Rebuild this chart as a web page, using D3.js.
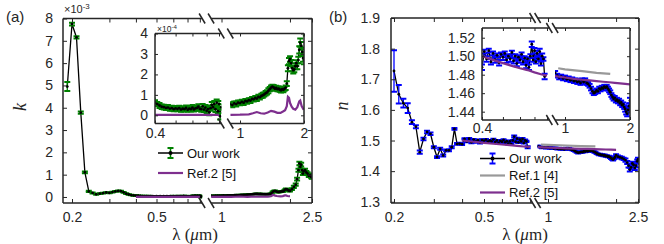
<!DOCTYPE html>
<html>
<head>
<meta charset="utf-8">
<script src="https://cdn.jsdelivr.net/npm/d3@7"></script>
<style>
body { margin: 0; background: #fff; }
svg { display: block; }
</style>
</head>
<body>
<div id="chart"></div>
<script>
// ---- data ----
// wavelength (um) for the k measurement
const lamK = [
  0.19,0.20,0.21,0.22,0.23,0.24,0.25,0.26,0.27,0.28,
  0.29,0.30,0.31,0.32,0.33,0.34,0.35,0.36,0.37,0.38,
  0.39,0.40,0.41,0.42,0.43,0.44,0.45,0.46,0.47,0.48,
  0.49,0.50,0.51,0.52,0.53,0.54,0.55,0.56,0.57,0.58,
  0.59,0.60,0.61,0.62,0.63,0.64,0.65,0.66,0.67,0.68,
  0.69,0.70,0.71,0.72,0.73,0.74,0.75,0.76,0.77,0.78,
  0.79,0.80,0.81,0.82,
  0.90,0.92,0.94,0.96,0.98,1.00,1.02,1.04,1.06,1.08,
  1.10,1.12,1.14,1.16,1.18,1.20,1.22,1.24,1.26,1.28,
  1.30,1.32,1.34,1.36,1.38,1.40,1.42,1.44,1.46,1.48,
  1.50,1.52,1.54,1.56,1.58,1.60,1.62,1.64,1.66,1.68,
  1.70,1.72,1.74,1.76,1.78,1.80,1.82,1.84,1.86,1.88,
  1.90,1.92,1.94,1.96,1.98,2.00,
  2.04,2.08,2.12,2.15,2.18,2.20,2.22,2.24,2.26,2.28,
  2.30,2.33,2.36,2.39,2.42,2.45,2.48,2.50
]
// k of our work, in units of 1e-3
const kOurs = [
  4.95,7.75,7.15,3.78,1.10,0.25,0.18,0.12,0.15,0.17,
  0.20,0.18,0.22,0.25,0.27,0.26,0.21,0.15,0.11,0.085,
  0.070,0.062,0.055,0.048,0.042,0.040,0.036,0.038,0.033,0.035,
  0.030,0.034,0.031,0.035,0.028,0.032,0.030,0.036,0.027,0.033,
  0.030,0.038,0.029,0.034,0.036,0.042,0.032,0.030,0.044,0.028,
  0.038,0.022,0.030,0.015,0.035,0.050,0.040,0.055,0.030,0.062,
  0.020,0.055,-0.005,0.040,
  0.055,0.050,0.058,0.055,0.062,0.060,0.066,0.062,0.070,0.068,
  0.074,0.072,0.080,0.078,0.085,0.082,0.090,0.088,0.095,0.098,
  0.102,0.108,0.112,0.120,0.128,0.135,0.140,0.136,0.130,0.134,
  0.128,0.130,0.125,0.122,0.128,0.125,0.130,0.135,0.155,0.230,
  0.265,0.275,0.255,0.230,0.220,0.225,0.240,0.255,0.240,0.270,
  0.320,0.355,0.340,0.310,0.280,0.270,
  0.350,0.450,0.550,0.800,1.200,1.500,1.350,1.450,1.200,1.050,
  1.150,1.200,1.100,1.050,0.950,0.980,0.900,0.880
]
const kErr = [
  0.20,0.06,0.05,0.05,0.04,0.03,0.02,0.02,0.015,0.015,
  0.015,0.015,0.015,0.015,0.015,0.015,0.015,0.012,0.012,0.012,
  0.012,0.012,0.010,0.012,0.011,0.012,0.010,0.012,0.011,0.012,
  0.010,0.012,0.011,0.012,0.010,0.012,0.011,0.012,0.010,0.012,
  0.011,0.012,0.010,0.012,0.011,0.012,0.010,0.012,0.011,0.012,
  0.012,0.014,0.012,0.015,0.013,0.015,0.012,0.015,0.014,0.015,
  0.014,0.015,0.016,0.015,
  0.010,0.011,0.010,0.012,0.010,0.011,0.010,0.012,0.010,0.011,
  0.010,0.012,0.010,0.011,0.010,0.012,0.010,0.011,0.010,0.012,
  0.010,0.011,0.010,0.012,0.010,0.011,0.010,0.012,0.010,0.011,
  0.010,0.012,0.010,0.011,0.010,0.012,0.010,0.011,0.012,0.015,
  0.015,0.014,0.015,0.014,0.015,0.014,0.015,0.014,0.015,0.016,
  0.018,0.020,0.018,0.020,0.018,0.020,
  0.040,0.050,0.050,0.060,0.070,0.080,0.070,0.080,0.070,0.060,
  0.070,0.070,0.060,0.060,0.060,0.070,0.060,0.060
]

// wavelength (um) for the n measurement
const lamN = [
  0.20,0.21,0.22,0.23,0.24,0.25,0.26,0.27,0.28,0.29,
  0.30,0.31,0.32,0.33,0.34,0.35,0.36,0.37,0.38,0.39,
  0.40,0.41,0.42,0.43,0.44,0.45,0.46,0.47,0.48,0.49,
  0.50,0.51,0.52,0.53,0.54,0.55,0.56,0.57,0.58,0.59,
  0.60,0.61,0.62,0.63,0.64,0.65,0.66,0.67,0.68,0.69,
  0.70,0.71,0.72,0.73,0.74,0.75,0.76,0.77,0.78,
  0.90,0.92,0.94,0.96,0.98,1.00,1.02,1.04,1.06,1.08,
  1.10,1.12,1.14,1.16,1.18,1.20,1.22,1.24,1.26,1.28,
  1.30,1.32,1.34,1.36,1.38,1.40,1.42,1.44,1.46,1.48,
  1.50,1.52,1.54,1.56,1.58,1.60,1.62,1.64,1.66,1.68,
  1.70,1.72,1.74,1.76,1.78,1.80,1.82,1.84,1.86,1.88,
  1.90,1.92,1.94,1.96,1.98,2.00,
  2.04,2.08,2.12,2.16,2.20,2.24,2.27,2.30,2.33,2.36,
  2.39,2.42,2.45,2.48,2.50
]
const nOurs = [
  1.727,1.651,1.622,1.606,1.560,1.545,1.462,1.505,1.528,1.522,
  1.478,1.446,1.473,1.451,1.468,1.468,1.478,1.538,1.489,1.490,
  1.488,1.505,1.497,1.506,1.494,1.503,1.496,1.501,1.493,1.502,
  1.499,1.503,1.496,1.500,1.497,1.504,1.495,1.500,1.492,1.499,
  1.496,1.502,1.494,1.498,1.490,1.497,1.488,1.500,1.513,1.496,
  1.506,1.494,1.503,1.497,1.505,1.492,1.500,1.497,1.478,
  1.482,1.479,1.477,1.478,1.476,1.477,1.475,1.476,1.474,1.475,
  1.473,1.474,1.472,1.473,1.471,1.474,1.472,1.474,1.471,1.470,
  1.468,1.465,1.462,1.460,1.461,1.463,1.462,1.465,1.464,1.466,
  1.465,1.467,1.466,1.467,1.465,1.463,1.461,1.458,1.456,1.454,
  1.455,1.452,1.453,1.451,1.452,1.449,1.450,1.447,1.448,1.445,
  1.443,1.440,1.438,1.442,1.446,1.452,
  1.447,1.445,1.443,1.440,1.436,1.428,1.418,1.405,1.412,1.425,
  1.420,1.410,1.418,1.432,1.438
]
const nErr = [
  0.068,0.030,0.014,0.016,0.006,0.005,0.005,0.004,0.004,0.004,
  0.003,0.003,0.003,0.003,0.003,0.003,0.003,0.003,0.003,0.003,
  0.003,0.002,0.003,0.002,0.003,0.002,0.003,0.002,0.003,0.002,
  0.003,0.002,0.003,0.002,0.003,0.002,0.003,0.002,0.003,0.002,
  0.003,0.002,0.003,0.002,0.003,0.002,0.003,0.002,0.003,0.002,
  0.003,0.002,0.003,0.002,0.003,0.002,0.003,0.002,0.003,
  0.002,0.002,0.002,0.002,0.002,0.002,0.002,0.002,0.002,0.002,
  0.002,0.002,0.002,0.002,0.002,0.002,0.002,0.002,0.002,0.002,
  0.002,0.002,0.002,0.002,0.002,0.002,0.002,0.002,0.002,0.002,
  0.002,0.002,0.002,0.002,0.002,0.002,0.002,0.002,0.002,0.002,
  0.002,0.002,0.002,0.002,0.002,0.002,0.002,0.002,0.002,0.002,
  0.003,0.003,0.003,0.003,0.003,0.003,
  0.004,0.004,0.004,0.004,0.005,0.005,0.006,0.006,0.006,0.006,
  0.006,0.006,0.006,0.006,0.006
]

// Ref.1 [4], n
const lamRef1 = [0.93, 1.00, 1.20, 1.40, 1.62]
const nRef1 = [1.487, 1.4858, 1.4838, 1.4820, 1.4808]

// Ref.2 [5], n
const lamRef2n = [0.40,0.45,0.50,0.55,0.60,0.65,0.70,0.75,0.80,
  0.90,1.00,1.10,1.20,1.30,1.40,1.50,1.60,1.70,1.80,1.90,2.00]
const nRef2 = [1.500,1.496,1.4925,1.4895,1.487,1.485,1.4825,1.4805,1.479,
  1.4785,1.477,1.4755,1.4745,1.4738,1.473,1.4724,1.4718,1.4712,1.4707,1.4701,1.4696]

// Ref.2 [5], k (units of 1e-3)
const lamRef2k = [0.40,0.50,0.60,0.70,0.80,
  0.90,1.00,1.10,1.15,1.20,1.25,1.30,1.35,1.40,1.45,1.50,1.55,1.60,1.63,1.66,
  1.68,1.70,1.72,1.75,1.78,1.82,1.86,1.90,1.92,1.95,1.98,2.00]
const kRef2 = [0.002,0.002,0.002,0.002,0.002,
  0.002,0.003,0.005,0.010,0.016,0.010,0.008,0.014,0.022,0.018,0.012,0.012,0.020,0.025,0.045,
  0.090,0.085,0.060,0.042,0.032,0.028,0.040,0.068,0.072,0.045,0.032,0.035]

// ticks
const kTicks = [0, 1, 2, 3, 4, 5, 6, 7, 8]
const nTicks = [1.3, 1.4, 1.5, 1.6, 1.7, 1.8, 1.9]
const kInsetTicks = [0, 0.1, 0.2, 0.3, 0.4]   // shown as x10^-4
const nInsetTicks = [1.44, 1.46, 1.48, 1.50, 1.52]
const xTicksLeft = [0.2, 0.3, 0.4, 0.5, 0.6, 0.7, 0.8]
const xTicksRight = [1, 2, 2.5]
const xLabels = [0.2, 0.5, 1, 2.5]
const insetTicksLeft = [0.4, 0.5, 0.6, 0.7, 0.8]
const insetTicksRight = [1, 2]
const insetLabels = [0.4, 1, 2]

// ---- drawing ----
const SANS = "'Liberation Sans', Arial, sans-serif"
const SERIF = "'Liberation Serif', 'Times New Roman', serif"
const AXIS = "#262626"
const GREEN = "#008000", BLUE = "#0000ff", PURPLE = "#7e2f8e", GREY = "#999999"
const BREAK = [0.82, 0.9]   // wavelengths where the x axis is cut

const svg = d3.select("#chart").append("svg")
    .attr("width", 664)
    .attr("height", 244)

let clipN = 0

function brokenX(left, right) {
    const xl = d3.scaleLog().domain(left[0]).range(left[1])
    const xr = d3.scaleLog().domain(right[0]).range(right[1])
    return {xl, xr, gL: xl(BREAK[0]), gR: xr(BREAK[1])}
}

function styleAxis(g) {
    g.attr("color", AXIS)
     .attr("font-size", 14)
     .attr("font-family", SANS)
    g.select(".domain").remove()
}

function drawAxes(cfg) {
    const box = cfg.box, X = cfg.X, y = cfg.y
    const g = svg.append("g")

    if (cfg.inset) {
        g.append("rect")
            .attr("x", box.x0).attr("y", box.y0)
            .attr("width", box.x1 - box.x0).attr("height", box.y1 - box.y0)
            .attr("fill", "white")
    }

    const segs = [
        {x: X.xl, a: box.x0, b: X.gL, ticks: cfg.ticksL, keep: l => l < 0.86},
        {x: X.xr, a: X.gR, b: box.x1, ticks: cfg.ticksR, keep: l => l > 0.86}
    ]

    segs.forEach(s => {
        const id = "clip" + (clipN++)
        g.append("clipPath").attr("id", id)
            .append("rect")
            .attr("x", s.a).attr("y", box.y0)
            .attr("width", s.b - s.a).attr("height", box.y1 - box.y0)
        s.plot = g.append("g").attr("clip-path", "url(#" + id + ")")
    })

    cfg.series.forEach(se => segs.forEach(s => {
        const idx = d3.range(se.lam.length).filter(i => s.keep(se.lam[i]))
        const px = i => s.x(se.lam[i])
        const py = i => y(se.val[i])
        const line = d3.line().x(px).y(py)

        if (se.err) {
            s.plot.append("path")
                .attr("d", line(idx))
                .attr("fill", "none")
                .attr("stroke", "black")
                .attr("stroke-width", 1.3)

            const eb = s.plot.append("g")
                .attr("stroke", se.errColor)
                .selectAll("g")
                .data(idx)
                .join("g")
            eb.append("line")
                .attr("x1", px).attr("x2", px)
                .attr("y1", i => y(se.val[i] - se.err[i]))
                .attr("y2", i => y(se.val[i] + se.err[i]))
                .attr("stroke-width", 1.3)
            eb.append("line")
                .attr("x1", i => px(i) - 3).attr("x2", i => px(i) + 3)
                .attr("y1", i => y(se.val[i] - se.err[i]))
                .attr("y2", i => y(se.val[i] - se.err[i]))
                .attr("stroke-width", 2)
            eb.append("line")
                .attr("x1", i => px(i) - 3).attr("x2", i => px(i) + 3)
                .attr("y1", i => y(se.val[i] + se.err[i]))
                .attr("y2", i => y(se.val[i] + se.err[i]))
                .attr("stroke-width", 2)

            s.plot.append("g")
                .selectAll("circle")
                .data(idx)
                .join("circle")
                .attr("cx", px).attr("cy", py)
                .attr("r", 1.4)
                .attr("fill", "black")
        } else {
            s.plot.append("path")
                .attr("d", line(idx))
                .attr("fill", "none")
                .attr("stroke", se.color)
                .attr("stroke-width", 2.2)
        }
    }))

    // ticks and tick labels
    const fmt = d => cfg.xLabels.includes(d) ? String(d) : ""
    segs.forEach(s => {
        g.append("g")
            .attr("transform", "translate(0," + box.y1 + ")")
            .call(d3.axisBottom(s.x).tickValues(s.ticks).tickSize(-cfg.tick)
                .tickPadding(cfg.xPad).tickFormat(fmt))
            .call(styleAxis)
        g.append("g")
            .attr("transform", "translate(0," + box.y0 + ")")
            .call(d3.axisTop(s.x).tickValues(s.ticks).tickSize(-cfg.tick).tickFormat(""))
            .call(styleAxis)
    })

    g.append("g")
        .attr("transform", "translate(" + box.x0 + ",0)")
        .call(d3.axisLeft(y).tickValues(cfg.yTicks).tickSize(-cfg.tick)
            .tickPadding(cfg.yPad).tickFormat(cfg.yFmt))
        .call(styleAxis)
    g.append("g")
        .attr("transform", "translate(" + box.x1 + ",0)")
        .call(d3.axisRight(y).tickValues(cfg.yTicks).tickSize(-cfg.tick).tickFormat(""))
        .call(styleAxis)

    // frame with the break
    const frame = g.append("g")
        .attr("stroke", AXIS)
        .attr("stroke-width", 1.5)
        .attr("fill", "none")
    frame.append("path")
        .attr("d", "M" + box.x0 + "," + box.y0 + "V" + box.y1 +
                   "M" + box.x1 + "," + box.y0 + "V" + box.y1 +
                   "M" + box.x0 + "," + box.y0 + "H" + X.gL +
                   "M" + X.gR + "," + box.y0 + "H" + box.x1 +
                   "M" + box.x0 + "," + box.y1 + "H" + X.gL +
                   "M" + X.gR + "," + box.y1 + "H" + box.x1)
    ;[box.y0, box.y1].forEach(yy => [X.gL, X.gR].forEach(xx => {
        frame.append("line")
            .attr("x1", xx - 3).attr("y1", yy - 5)
            .attr("x2", xx + 3).attr("y2", yy + 5)
    }))

    return g
}

function legend(x, y0, dy, items) {
    const g = svg.append("g")
    items.forEach((it, i) => {
        const yy = y0 + i * dy
        if (it.err) {
            const cx = x + 12.5
            g.append("line").attr("x1", x).attr("x2", x + 25).attr("y1", yy).attr("y2", yy)
                .attr("stroke", "black").attr("stroke-width", 1.5)
            g.append("line").attr("x1", cx).attr("x2", cx).attr("y1", yy - 5).attr("y2", yy + 5)
                .attr("stroke", it.err).attr("stroke-width", 1.5)
            g.append("line").attr("x1", cx - 3).attr("x2", cx + 3).attr("y1", yy - 5).attr("y2", yy - 5)
                .attr("stroke", it.err).attr("stroke-width", 2)
            g.append("line").attr("x1", cx - 3).attr("x2", cx + 3).attr("y1", yy + 5).attr("y2", yy + 5)
                .attr("stroke", it.err).attr("stroke-width", 2)
            g.append("circle").attr("cx", cx).attr("cy", yy).attr("r", 2).attr("fill", "black")
        } else {
            g.append("line").attr("x1", x).attr("x2", x + 25).attr("y1", yy).attr("y2", yy)
                .attr("stroke", it.color).attr("stroke-width", 2.2)
        }
        g.append("text")
            .attr("x", x + 29).attr("y", yy + 4.5)
            .attr("font-family", SANS).attr("font-size", 13)
            .attr("fill", "#111")
            .text(it.label)
    })
}

function sciLabel(x, y, size, exp) {
    const t = svg.append("text")
        .attr("x", x).attr("y", y)
        .attr("font-family", SANS).attr("font-size", size)
        .attr("fill", AXIS)
    t.append("tspan").text("\u00d710")
    t.append("tspan").attr("dy", -size * 0.4).attr("font-size", size * 0.72).text(exp)
}

function xLabel(cx) {
    const t = svg.append("text")
        .attr("x", cx).attr("y", 240)
        .attr("text-anchor", "middle")
        .attr("font-family", SERIF).attr("font-size", 17)
        .attr("fill", AXIS)
    t.append("tspan").text("\u03bb (")
    t.append("tspan").attr("font-style", "italic").text("\u03bc")
    t.append("tspan").text("m)")
}

function yLabel(x, y, s) {
    svg.append("text")
        .attr("transform", "translate(" + x + "," + y + ") rotate(-90)")
        .attr("text-anchor", "middle")
        .attr("dy", "0.35em")
        .attr("font-family", SERIF).attr("font-size", 18)
        .attr("font-style", "italic")
        .attr("fill", AXIS)
        .text(s)
}

const ourK = {lam: lamK, val: kOurs, err: kErr, errColor: GREEN}
const ref2K = {lam: lamRef2k, val: kRef2, color: PURPLE}
const ourN = {lam: lamN, val: nOurs, err: nErr, errColor: BLUE}
const ref1N = {lam: lamRef1, val: nRef1, color: GREY}
const ref2N = {lam: lamRef2n, val: nRef2, color: PURPLE}

// (a) k, main axes
drawAxes({
    box: {x0: 63, x1: 312, y0: 18.5, y1: 203},
    X: brokenX([[0.2, 0.5], [72, 156.5]], [[1, 2.5], [221.5, 312]]),
    y: d3.scaleLinear().domain([-0.27, 8]).range([203, 18.5]),
    ticksL: xTicksLeft, ticksR: xTicksRight, xLabels: xLabels,
    yTicks: kTicks, yFmt: d3.format("d"),
    tick: 4, xPad: 9, yPad: 10,
    series: [ourK, ref2K]
})

// (a) inset
drawAxes({
    inset: true,
    box: {x0: 155, x1: 304, y0: 33.5, y1: 123.5},
    X: brokenX([[0.4, 0.8], [155, 219]], [[1, 2], [240, 304]]),
    y: d3.scaleLinear().domain([-0.04, 0.4]).range([123.5, 33.5]),
    ticksL: insetTicksLeft, ticksR: insetTicksRight, xLabels: insetLabels,
    yTicks: kInsetTicks, yFmt: d => String(Math.round(d * 10)),
    tick: 3, xPad: 4.5, yPad: 7,
    series: [ourK, ref2K]
})

// (b) n, main axes
drawAxes({
    box: {x0: 391, x1: 639, y0: 18, y1: 203},
    X: brokenX([[0.2, 0.5], [394, 484]], [[1, 2.5], [548, 638]]),
    y: d3.scaleLinear().domain([1.296, 1.9]).range([203, 18]),
    ticksL: xTicksLeft, ticksR: xTicksRight, xLabels: xLabels,
    yTicks: nTicks, yFmt: d3.format(".1f"),
    tick: 4, xPad: 9, yPad: 11,
    series: [ourN, ref1N, ref2N]
})

// (b) inset
drawAxes({
    inset: true,
    box: {x0: 482, x1: 630, y0: 28, y1: 120},
    X: brokenX([[0.4, 0.8], [482, 547]], [[1, 2], [565, 630]]),
    y: d3.scaleLinear().domain([1.431, 1.5305]).range([120, 28]),
    ticksL: insetTicksLeft, ticksR: insetTicksRight, xLabels: insetLabels,
    yTicks: nInsetTicks, yFmt: d3.format(".2f"),
    tick: 3, xPad: 3, yPad: 7,
    series: [ourN, ref1N, ref2N]
})

legend(158, 153, 20, [
    {label: "Our work", err: GREEN},
    {label: "Ref.2 [5]", color: PURPLE}
])
legend(480, 158.5, 17, [
    {label: "Our work", err: BLUE},
    {label: "Ref.1 [4]", color: GREY},
    {label: "Ref.2 [5]", color: PURPLE}
])

sciLabel(64, 13, 11, "-3")
sciLabel(157, 32, 8.5, "-4")

xLabel(195)
xLabel(525)
yLabel(20, 107, "k")
yLabel(342, 106, "n")

svg.append("text").attr("x", 6).attr("y", 22)
    .attr("font-family", SANS).attr("font-size", 15).attr("fill", AXIS).text("(a)")
svg.append("text").attr("x", 329).attr("y", 22)
    .attr("font-family", SANS).attr("font-size", 15).attr("fill", AXIS).text("(b)")
</script>
</body>
</html>
